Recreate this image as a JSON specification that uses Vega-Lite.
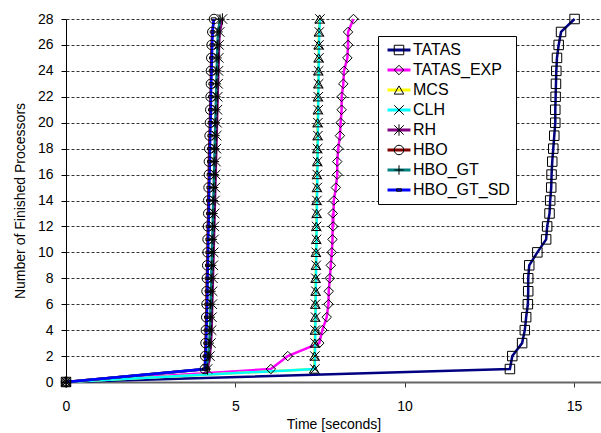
{
  "$schema": "https://vega.github.io/schema/vega-lite/v6.json",
  "width": 535,
  "height": 363,
  "autosize": {"type": "none"},
  "padding": {"left": 66, "top": 19, "right": 0, "bottom": 51},
  "background": "white",
  "config": {
    "view": {"stroke": null},
    "font": "Liberation Sans",
    "axis": {"labelFont": "Liberation Sans", "titleFont": "Liberation Sans", "labelFontSize": 14, "titleFontSize": 14, "titleFontWeight": "normal", "labelColor": "black", "titleColor": "black", "tickSize": 5}
  },
  "datasets": {
    "runs": [
      {"lock":"TATAS","time":0,"n":0},{"lock":"TATAS","time":13.11,"n":1},{"lock":"TATAS","time":13.18,"n":2},{"lock":"TATAS","time":13.47,"n":3},{"lock":"TATAS","time":13.55,"n":4},{"lock":"TATAS","time":13.59,"n":5},{"lock":"TATAS","time":13.64,"n":6},{"lock":"TATAS","time":13.65,"n":7},{"lock":"TATAS","time":13.65,"n":8},{"lock":"TATAS","time":13.68,"n":9},{"lock":"TATAS","time":13.92,"n":10},{"lock":"TATAS","time":14.18,"n":11},{"lock":"TATAS","time":14.21,"n":12},{"lock":"TATAS","time":14.28,"n":13},{"lock":"TATAS","time":14.3,"n":14},{"lock":"TATAS","time":14.33,"n":15},{"lock":"TATAS","time":14.34,"n":16},{"lock":"TATAS","time":14.36,"n":17},{"lock":"TATAS","time":14.39,"n":18},{"lock":"TATAS","time":14.42,"n":19},{"lock":"TATAS","time":14.45,"n":20},{"lock":"TATAS","time":14.45,"n":21},{"lock":"TATAS","time":14.46,"n":22},{"lock":"TATAS","time":14.47,"n":23},{"lock":"TATAS","time":14.48,"n":24},{"lock":"TATAS","time":14.5,"n":25},{"lock":"TATAS","time":14.55,"n":26},{"lock":"TATAS","time":14.62,"n":27},{"lock":"TATAS","time":15.02,"n":28},
      {"lock":"TATAS_EXP","time":0,"n":0},{"lock":"TATAS_EXP","time":6.05,"n":1},{"lock":"TATAS_EXP","time":6.55,"n":2},{"lock":"TATAS_EXP","time":7.48,"n":3},{"lock":"TATAS_EXP","time":7.57,"n":4},{"lock":"TATAS_EXP","time":7.7,"n":5},{"lock":"TATAS_EXP","time":7.75,"n":6},{"lock":"TATAS_EXP","time":7.76,"n":7},{"lock":"TATAS_EXP","time":7.79,"n":8},{"lock":"TATAS_EXP","time":7.82,"n":9},{"lock":"TATAS_EXP","time":7.85,"n":10},{"lock":"TATAS_EXP","time":7.87,"n":11},{"lock":"TATAS_EXP","time":7.89,"n":12},{"lock":"TATAS_EXP","time":7.88,"n":13},{"lock":"TATAS_EXP","time":7.91,"n":14},{"lock":"TATAS_EXP","time":7.97,"n":15},{"lock":"TATAS_EXP","time":8.01,"n":16},{"lock":"TATAS_EXP","time":8.01,"n":17},{"lock":"TATAS_EXP","time":8.04,"n":18},{"lock":"TATAS_EXP","time":8.09,"n":19},{"lock":"TATAS_EXP","time":8.11,"n":20},{"lock":"TATAS_EXP","time":8.14,"n":21},{"lock":"TATAS_EXP","time":8.14,"n":22},{"lock":"TATAS_EXP","time":8.19,"n":23},{"lock":"TATAS_EXP","time":8.21,"n":24},{"lock":"TATAS_EXP","time":8.31,"n":25},{"lock":"TATAS_EXP","time":8.33,"n":26},{"lock":"TATAS_EXP","time":8.33,"n":27},{"lock":"TATAS_EXP","time":8.49,"n":28},
      {"lock":"MCS","time":0,"n":0},{"lock":"MCS","time":7.33,"n":1},{"lock":"MCS","time":7.34,"n":2},{"lock":"MCS","time":7.35,"n":3},{"lock":"MCS","time":7.35,"n":4},{"lock":"MCS","time":7.36,"n":5},{"lock":"MCS","time":7.36,"n":6},{"lock":"MCS","time":7.37,"n":7},{"lock":"MCS","time":7.37,"n":8},{"lock":"MCS","time":7.38,"n":9},{"lock":"MCS","time":7.38,"n":10},{"lock":"MCS","time":7.39,"n":11},{"lock":"MCS","time":7.39,"n":12},{"lock":"MCS","time":7.4,"n":13},{"lock":"MCS","time":7.4,"n":14},{"lock":"MCS","time":7.41,"n":15},{"lock":"MCS","time":7.41,"n":16},{"lock":"MCS","time":7.42,"n":17},{"lock":"MCS","time":7.42,"n":18},{"lock":"MCS","time":7.43,"n":19},{"lock":"MCS","time":7.43,"n":20},{"lock":"MCS","time":7.44,"n":21},{"lock":"MCS","time":7.44,"n":22},{"lock":"MCS","time":7.45,"n":23},{"lock":"MCS","time":7.45,"n":24},{"lock":"MCS","time":7.46,"n":25},{"lock":"MCS","time":7.46,"n":26},{"lock":"MCS","time":7.47,"n":27},{"lock":"MCS","time":7.49,"n":28},
      {"lock":"CLH","time":0,"n":0},{"lock":"CLH","time":7.35,"n":1},{"lock":"CLH","time":7.35,"n":2},{"lock":"CLH","time":7.36,"n":3},{"lock":"CLH","time":7.36,"n":4},{"lock":"CLH","time":7.37,"n":5},{"lock":"CLH","time":7.37,"n":6},{"lock":"CLH","time":7.38,"n":7},{"lock":"CLH","time":7.38,"n":8},{"lock":"CLH","time":7.39,"n":9},{"lock":"CLH","time":7.39,"n":10},{"lock":"CLH","time":7.4,"n":11},{"lock":"CLH","time":7.4,"n":12},{"lock":"CLH","time":7.41,"n":13},{"lock":"CLH","time":7.41,"n":14},{"lock":"CLH","time":7.42,"n":15},{"lock":"CLH","time":7.42,"n":16},{"lock":"CLH","time":7.43,"n":17},{"lock":"CLH","time":7.43,"n":18},{"lock":"CLH","time":7.44,"n":19},{"lock":"CLH","time":7.44,"n":20},{"lock":"CLH","time":7.45,"n":21},{"lock":"CLH","time":7.45,"n":22},{"lock":"CLH","time":7.46,"n":23},{"lock":"CLH","time":7.46,"n":24},{"lock":"CLH","time":7.47,"n":25},{"lock":"CLH","time":7.47,"n":26},{"lock":"CLH","time":7.48,"n":27},{"lock":"CLH","time":7.5,"n":28},
      {"lock":"RH","time":0,"n":0},{"lock":"RH","time":4.18,"n":1},{"lock":"RH","time":4.25,"n":2},{"lock":"RH","time":4.28,"n":3},{"lock":"RH","time":4.3,"n":4},{"lock":"RH","time":4.31,"n":5},{"lock":"RH","time":4.32,"n":6},{"lock":"RH","time":4.33,"n":7},{"lock":"RH","time":4.34,"n":8},{"lock":"RH","time":4.35,"n":9},{"lock":"RH","time":4.36,"n":10},{"lock":"RH","time":4.37,"n":11},{"lock":"RH","time":4.38,"n":12},{"lock":"RH","time":4.39,"n":13},{"lock":"RH","time":4.4,"n":14},{"lock":"RH","time":4.41,"n":15},{"lock":"RH","time":4.42,"n":16},{"lock":"RH","time":4.43,"n":17},{"lock":"RH","time":4.44,"n":18},{"lock":"RH","time":4.45,"n":19},{"lock":"RH","time":4.46,"n":20},{"lock":"RH","time":4.47,"n":21},{"lock":"RH","time":4.48,"n":22},{"lock":"RH","time":4.49,"n":23},{"lock":"RH","time":4.5,"n":24},{"lock":"RH","time":4.51,"n":25},{"lock":"RH","time":4.52,"n":26},{"lock":"RH","time":4.54,"n":27},{"lock":"RH","time":4.62,"n":28},
      {"lock":"HBO","time":0,"n":0},{"lock":"HBO","time":4.1,"n":1},{"lock":"HBO","time":4.11,"n":2},{"lock":"HBO","time":4.12,"n":3},{"lock":"HBO","time":4.13,"n":4},{"lock":"HBO","time":4.14,"n":5},{"lock":"HBO","time":4.15,"n":6},{"lock":"HBO","time":4.15,"n":7},{"lock":"HBO","time":4.16,"n":8},{"lock":"HBO","time":4.17,"n":9},{"lock":"HBO","time":4.18,"n":10},{"lock":"HBO","time":4.18,"n":11},{"lock":"HBO","time":4.19,"n":12},{"lock":"HBO","time":4.2,"n":13},{"lock":"HBO","time":4.2,"n":14},{"lock":"HBO","time":4.21,"n":15},{"lock":"HBO","time":4.22,"n":16},{"lock":"HBO","time":4.22,"n":17},{"lock":"HBO","time":4.23,"n":18},{"lock":"HBO","time":4.24,"n":19},{"lock":"HBO","time":4.25,"n":20},{"lock":"HBO","time":4.26,"n":21},{"lock":"HBO","time":4.27,"n":22},{"lock":"HBO","time":4.28,"n":23},{"lock":"HBO","time":4.28,"n":24},{"lock":"HBO","time":4.29,"n":25},{"lock":"HBO","time":4.3,"n":26},{"lock":"HBO","time":4.32,"n":27},{"lock":"HBO","time":4.37,"n":28},
      {"lock":"HBO_GT","time":0,"n":0},{"lock":"HBO_GT","time":4.14,"n":1},{"lock":"HBO_GT","time":4.2,"n":2},{"lock":"HBO_GT","time":4.23,"n":3},{"lock":"HBO_GT","time":4.25,"n":4},{"lock":"HBO_GT","time":4.26,"n":5},{"lock":"HBO_GT","time":4.27,"n":6},{"lock":"HBO_GT","time":4.28,"n":7},{"lock":"HBO_GT","time":4.29,"n":8},{"lock":"HBO_GT","time":4.3,"n":9},{"lock":"HBO_GT","time":4.31,"n":10},{"lock":"HBO_GT","time":4.32,"n":11},{"lock":"HBO_GT","time":4.33,"n":12},{"lock":"HBO_GT","time":4.34,"n":13},{"lock":"HBO_GT","time":4.35,"n":14},{"lock":"HBO_GT","time":4.36,"n":15},{"lock":"HBO_GT","time":4.37,"n":16},{"lock":"HBO_GT","time":4.38,"n":17},{"lock":"HBO_GT","time":4.39,"n":18},{"lock":"HBO_GT","time":4.4,"n":19},{"lock":"HBO_GT","time":4.41,"n":20},{"lock":"HBO_GT","time":4.42,"n":21},{"lock":"HBO_GT","time":4.43,"n":22},{"lock":"HBO_GT","time":4.44,"n":23},{"lock":"HBO_GT","time":4.45,"n":24},{"lock":"HBO_GT","time":4.46,"n":25},{"lock":"HBO_GT","time":4.47,"n":26},{"lock":"HBO_GT","time":4.49,"n":27},{"lock":"HBO_GT","time":4.55,"n":28},
      {"lock":"HBO_GT_SD","time":0,"n":0},{"lock":"HBO_GT_SD","time":4.1,"n":1},{"lock":"HBO_GT_SD","time":4.12,"n":2},{"lock":"HBO_GT_SD","time":4.14,"n":3},{"lock":"HBO_GT_SD","time":4.15,"n":4},{"lock":"HBO_GT_SD","time":4.16,"n":5},{"lock":"HBO_GT_SD","time":4.17,"n":6},{"lock":"HBO_GT_SD","time":4.18,"n":7},{"lock":"HBO_GT_SD","time":4.18,"n":8},{"lock":"HBO_GT_SD","time":4.19,"n":9},{"lock":"HBO_GT_SD","time":4.2,"n":10},{"lock":"HBO_GT_SD","time":4.2,"n":11},{"lock":"HBO_GT_SD","time":4.21,"n":12},{"lock":"HBO_GT_SD","time":4.22,"n":13},{"lock":"HBO_GT_SD","time":4.22,"n":14},{"lock":"HBO_GT_SD","time":4.23,"n":15},{"lock":"HBO_GT_SD","time":4.24,"n":16},{"lock":"HBO_GT_SD","time":4.25,"n":17},{"lock":"HBO_GT_SD","time":4.25,"n":18},{"lock":"HBO_GT_SD","time":4.26,"n":19},{"lock":"HBO_GT_SD","time":4.27,"n":20},{"lock":"HBO_GT_SD","time":4.28,"n":21},{"lock":"HBO_GT_SD","time":4.28,"n":22},{"lock":"HBO_GT_SD","time":4.29,"n":23},{"lock":"HBO_GT_SD","time":4.3,"n":24},{"lock":"HBO_GT_SD","time":4.31,"n":25},{"lock":"HBO_GT_SD","time":4.32,"n":26},{"lock":"HBO_GT_SD","time":4.33,"n":27},{"lock":"HBO_GT_SD","time":4.36,"n":28}
    ]
  },
  "data": {"name": "runs"},
  "encoding": {
    "x": {"field": "time", "type": "quantitative", "title": "Time [seconds]",
      "scale": {"domain": [0, 15.8], "nice": false, "zero": false},
      "axis": {"values": [0, 5, 10, 15], "grid": false, "domainColor": "#666666", "domainWidth": 2, "tickColor": "#333333", "labelPadding": 12, "titlePadding": 4, "labelFlush": false}},
    "y": {"field": "n", "type": "quantitative", "title": "Number of Finished Processors",
      "scale": {"domain": [0, 28], "nice": false},
      "axis": {"values": [0,2,4,6,8,10,12,14,16,18,20,22,24,26,28], "grid": true, "gridColor": "black", "gridDash": [3, 2], "gridWidth": 0.8, "domainColor": "black", "domainWidth": 1, "tickColor": "black", "labelPadding": 8, "titlePadding": 10}}
  },
  "layer": [
    {
      "mark": {"type": "line", "strokeWidth": 2.5},
      "encoding": {
        "color": {"field": "lock", "type": "nominal",
          "scale": {"domain": ["TATAS","TATAS_EXP","MCS","CLH","RH","HBO","HBO_GT","HBO_GT_SD"],
                    "range": ["#000080","#FF00FF","#FFFF00","#00FFFF","#800080","#800000","#008080","#0000FF"]},
          "legend": {"title": null, "orient": "none", "legendX": 312, "legendY": 17, "symbolType": "M-2.42,0L2.42,0", "symbolSize": 90, "symbolStrokeWidth": 3, "symbolOffset": 7, "labelOffset": 6, "labelFontSize": 16, "labelFont": "Liberation Sans", "labelColor": "black", "padding": 6, "rowPadding": 4, "strokeColor": "black", "fillColor": "white", "zindex": 0}}
      }
    },
    {
      "mark": {"type": "point", "filled": false, "stroke": "black", "strokeWidth": 1, "size": 90, "opacity": 1},
      "encoding": {
        "shape": {"field": "lock", "type": "nominal",
          "sort": ["TATAS","TATAS_EXP","MCS","CLH","RH","HBO","HBO_GT","HBO_GT_SD"],
          "scale": {"range": ["square","diamond","triangle-up","M-1,-1L1,1M-1,1L1,-1","M-1,-1L1,1M-1,1L1,-1M0,-1.2L0,1.2","circle","M-1,0L1,0M0,-1L0,1","M-0.5,-0.25L0.5,-0.25L0.5,0.25L-0.5,0.25Z"]},
          "legend": {"title": null, "orient": "none", "legendX": 312, "legendY": 17, "symbolSize": 90, "symbolStrokeWidth": 1, "symbolStrokeColor": "black", "symbolFillColor": "transparent", "symbolOffset": 7, "labelOffset": 6, "labelFontSize": 16, "labelFont": "Liberation Sans", "labelOpacity": 0, "padding": 6, "rowPadding": 4, "zindex": 1}}
      }
    }
  ]
}
